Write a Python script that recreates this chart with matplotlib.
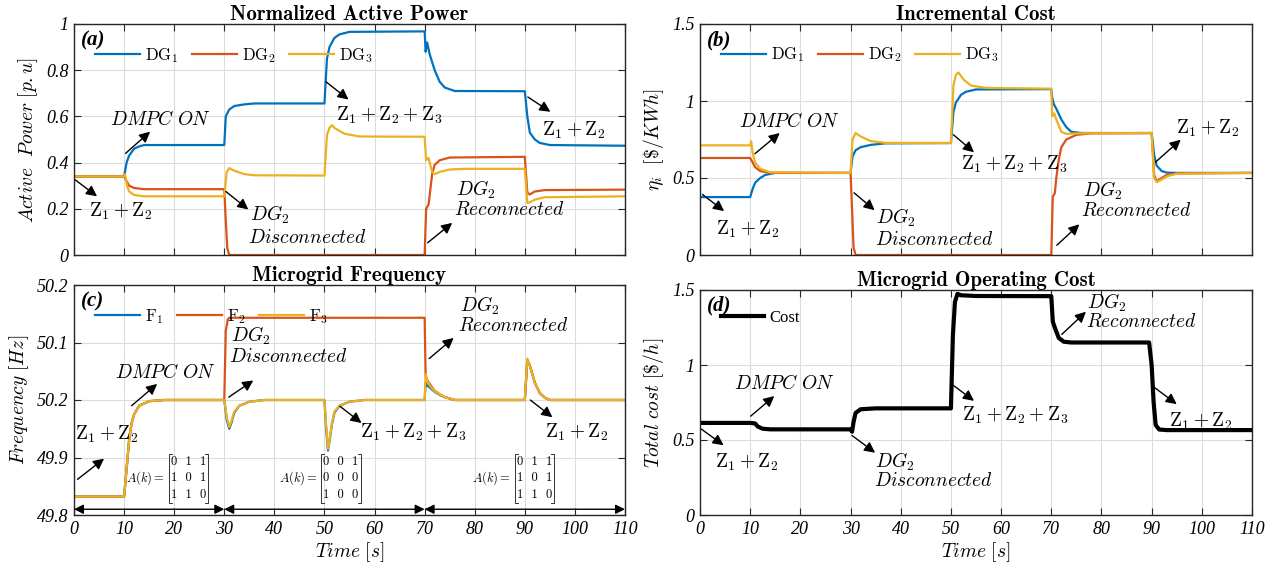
import numpy as np
import matplotlib
matplotlib.use("Agg")
import matplotlib.pyplot as plt

plt.rcParams['mathtext.fontset'] = 'cm'
plt.rcParams['font.family'] = ['Liberation Serif', 'DejaVu Serif']

# ---------------- data ----------------
# (a) normalized active power
t_p1 = [0, 10, 10.5, 11, 12, 13, 14, 30, 30.3, 31, 32, 34, 36, 50, 50.5, 51, 52, 53, 55, 70,
        70.2, 70.5, 71, 72, 73, 74, 76, 90, 90.5, 91, 92, 93, 95, 110]
p_dg1 = [0.34, 0.34, 0.40, 0.43, 0.46, 0.47, 0.476, 0.476, 0.60, 0.63, 0.645, 0.652, 0.656, 0.656,
         0.85, 0.90, 0.94, 0.955, 0.966, 0.968, 0.88, 0.92, 0.87, 0.80, 0.75, 0.725, 0.71, 0.709,
         0.60, 0.53, 0.50, 0.485, 0.476, 0.473]
t_p2 = [0, 10, 10.5, 11, 12, 14, 30, 30.3, 30.6, 31, 70, 70.3, 70.8, 71.5, 72, 73, 75, 90,
        90.5, 91, 92, 94, 110]
p_dg2 = [0.34, 0.34, 0.32, 0.30, 0.29, 0.285, 0.285, 0.15, 0.03, 0.0, 0.0, 0.20, 0.22, 0.35,
         0.39, 0.41, 0.422, 0.425, 0.27, 0.262, 0.275, 0.281, 0.283]
t_p3 = [0, 10, 10.2, 10.6, 11, 12, 14, 30, 30.5, 31, 32, 34, 36, 50, 50.5, 51, 51.5, 52, 54, 57, 70,
        70.3, 70.8, 71, 71.5, 72, 73, 75, 78, 90, 90.5, 91, 92, 94, 110]
p_dg3 = [0.34, 0.34, 0.35, 0.30, 0.275, 0.26, 0.254, 0.254, 0.36, 0.376, 0.365, 0.35, 0.345, 0.344,
         0.52, 0.55, 0.562, 0.55, 0.525, 0.513, 0.512, 0.41, 0.42, 0.40, 0.36, 0.35, 0.36, 0.37,
         0.373, 0.373, 0.225, 0.228, 0.24, 0.25, 0.254]

# (b) incremental cost
t_c1 = [0, 10, 10.5, 11, 12, 13, 15, 30, 30.4, 31, 32, 34, 37, 50, 50.5, 51, 52, 53, 55, 70,
        70.2, 70.5, 71, 72, 73, 74, 76, 90, 90.5, 91, 92, 93, 95, 110]
c_dg1 = [0.376, 0.376, 0.43, 0.47, 0.50, 0.52, 0.533, 0.533, 0.64, 0.68, 0.70, 0.715, 0.725, 0.727,
         0.93, 0.99, 1.04, 1.06, 1.075, 1.077, 1.02, 0.98, 0.95, 0.88, 0.83, 0.80, 0.792, 0.792,
         0.65, 0.58, 0.545, 0.535, 0.533, 0.533]
t_c2 = [0, 10, 10.5, 11, 12, 14, 30, 30.3, 30.6, 31, 70, 70.3, 70.7, 71, 71.5, 72, 73, 75, 78, 90,
        90.5, 91, 92, 93, 95, 110]
c_dg2 = [0.63, 0.63, 0.60, 0.57, 0.545, 0.533, 0.533, 0.30, 0.05, 0.0, 0.0, 0.38, 0.40, 0.50,
         0.62, 0.70, 0.75, 0.78, 0.79, 0.792, 0.52, 0.48, 0.50, 0.52, 0.53, 0.533]
t_c3 = [0, 10, 10.2, 10.5, 11, 12, 14, 30, 30.4, 31, 32, 34, 37, 50, 50.5, 51, 51.5, 52.5, 54, 57,
        70, 70.2, 70.6, 71, 71.5, 72, 73, 76, 90, 90.5, 91, 92, 93, 95, 110]
c_dg3 = [0.712, 0.712, 0.738, 0.66, 0.60, 0.56, 0.537, 0.533, 0.75, 0.792, 0.77, 0.74, 0.728, 0.727,
         1.10, 1.17, 1.185, 1.14, 1.10, 1.085, 1.08, 0.90, 0.92, 0.88, 0.84, 0.80, 0.787, 0.79,
         0.792, 0.50, 0.473, 0.49, 0.51, 0.528, 0.533]

# (c) microgrid frequency
t_f1 = [0, 10, 10.5, 11, 11.5, 12, 13, 15, 18, 30, 30.5, 31, 31.5, 32, 33, 35, 38, 50, 50.3, 50.7,
        51, 51.5, 52, 53, 55, 58, 70, 70.2, 70.5, 71, 72, 73, 74, 76, 90, 90.5, 91, 92, 93, 94,
        95, 110]
f_1 = [49.832, 49.832, 49.88, 49.93, 49.96, 49.975, 49.99, 49.998, 50.0, 50.0, 49.965, 49.95,
       49.962, 49.978, 49.99, 49.997, 50.0, 50.0, 49.955, 49.912, 49.928, 49.958, 49.978, 49.99,
       49.997, 50.0, 50.0, 50.03, 50.025, 50.022, 50.014, 50.009, 50.005, 50.0, 50.0, 50.07,
       50.06, 50.03, 50.012, 50.004, 50.0, 50.0]
t_f2 = [0, 10, 10.5, 11, 11.5, 12, 13, 15, 18, 30, 30.3, 30.7, 31, 70, 70.2, 70.5, 71, 72, 73, 74,
        76, 90, 90.5, 91, 92, 93, 94, 95, 110]
f_2 = [49.832, 49.832, 49.88, 49.93, 49.96, 49.975, 49.99, 49.998, 50.0, 50.0, 50.12, 50.14,
       50.143, 50.143, 50.04, 50.035, 50.028, 50.016, 50.01, 50.005, 50.0, 50.0, 50.07, 50.06,
       50.03, 50.012, 50.004, 50.0, 50.0]
t_f3 = [0, 10, 10.5, 11, 11.5, 12, 13, 15, 18, 30, 30.5, 31, 31.5, 32, 33, 35, 38, 50, 50.3, 50.7,
        51, 51.5, 52, 53, 55, 58, 70, 70.2, 70.5, 71, 72, 73, 74, 76, 90, 90.5, 91, 92, 93, 94,
        95, 110]
f_3 = [49.832, 49.832, 49.88, 49.93, 49.96, 49.975, 49.99, 49.998, 50.0, 50.0, 49.97, 49.953,
       49.965, 49.98, 49.99, 49.997, 50.0, 50.0, 49.96, 49.915, 49.93, 49.96, 49.98, 49.99,
       49.997, 50.0, 50.0, 50.045, 50.035, 50.025, 50.015, 50.01, 50.005, 50.0, 50.0, 50.072,
       50.06, 50.03, 50.012, 50.004, 50.0, 50.0]

# (d) operating cost
t_cost = [0, 10, 11, 11.5, 12.5, 14, 30, 30.3, 30.6, 31, 32, 35, 50, 50.4, 50.8, 51.3, 52, 55, 70,
          70.3, 70.8, 71.5, 72.5, 74, 89.5, 90, 90.4, 90.8, 91.5, 93, 110]
cost = [0.614, 0.614, 0.61, 0.59, 0.575, 0.571, 0.571, 0.555, 0.62, 0.68, 0.705, 0.711, 0.711,
        1.2, 1.42, 1.474, 1.465, 1.46, 1.459, 1.29, 1.24, 1.18, 1.155, 1.15, 1.15, 1.0, 0.75,
        0.6, 0.57, 0.566, 0.566]

xticks = list(range(0, 111, 10))
yt_a = [0, 0.2, 0.4, 0.6, 0.8, 1]
yl_a = ['0', '0.2', '0.4', '0.6', '0.8', '1']
yt_b = [0, 0.5, 1, 1.5]
yl_b = ['0', '0.5', '1', '1.5']
yt_c = [49.8, 49.9, 50.0, 50.1, 50.2]
yl_c = ['49.8', '49.9', '50.2', '50.1', '50.2']

blue, red, yellow = '#0072BD', '#D95319', '#EDB120'

# ---------------- figure ----------------
W, H = 1275, 564
fig = plt.figure(figsize=(W / 100, H / 100), dpi=100)


def box(l, r, t, b):
    return [l / W, 1 - b / H, (r - l) / W, (b - t) / H]


ax_a = fig.add_axes(box(74, 625, 24, 255))
ax_b = fig.add_axes(box(700, 1252, 24, 255))
ax_c = fig.add_axes(box(74, 625, 285, 515))
ax_d = fig.add_axes(box(700, 1252, 290, 515))

tick_font = dict(family='Liberation Serif', style='italic', size=13)


def style(ax, yt, yl, ylim, show_x):
    ax.set_xlim(0, 110)
    ax.set_ylim(*ylim)
    ax.set_xticks(xticks)
    ax.set_yticks(yt)
    ax.set_yticklabels(yl, fontdict=tick_font)
    if show_x:
        ax.set_xticklabels([str(v) for v in xticks], fontdict=tick_font)
        ax.set_xlabel(r'$Time\ [s]$', fontsize=14, labelpad=2)
    else:
        ax.set_xticklabels([])
    ax.grid(True, color='#dcdcdc', lw=0.8)
    ax.set_axisbelow(True)
    ax.tick_params(direction='in', length=5, width=0.8, top=True, right=True, color='#262626', pad=4)
    for s in ax.spines.values():
        s.set_color('#262626')
        s.set_linewidth(1.0)


def label(ax, s):
    ax.text(0.012, 0.93, s, transform=ax.transAxes, fontsize=15, fontweight='bold',
            fontstyle='italic', ha='left', va='center', family='Liberation Serif')


def notes(ax, texts, arrows, fs=14):
    for x, y, s in texts:
        ax.text(x, y, s, fontsize=fs, ha='left', va='center')
    for (x0, y0), (x1, y1) in arrows:
        ax.annotate('', xy=(x1, y1), xytext=(x0, y0),
                    arrowprops=dict(arrowstyle='-|>', color='k', lw=1.0, mutation_scale=16,
                                    shrinkA=0, shrinkB=0))


Z12 = r'$\mathrm{Z}_1+\mathrm{Z}_2$'
Z123 = r'$\mathrm{Z}_1+\mathrm{Z}_2+\mathrm{Z}_3$'
DG2 = r'$DG_2$'
DMPC = r'$DMPC\ ON$'
title_font = dict(fontsize=15, family='cmb10')

# (a)
ax_a.plot(t_p1, p_dg1, color=blue, lw=1.6, label=r'$\mathrm{DG}_1$')
ax_a.plot(t_p2, p_dg2, color=red, lw=1.6, label=r'$\mathrm{DG}_2$')
ax_a.plot(t_p3, p_dg3, color=yellow, lw=1.6, label=r'$\mathrm{DG}_3$')
style(ax_a, yt_a, yl_a, (0, 1), False)
ax_a.set_title('Normalized Active Power', pad=3, **title_font)
ax_a.set_ylabel(r'$Active\ \ Power\ [p.u]$', fontsize=14)
label(ax_a, '(a)')
notes(ax_a,
      [(7.1, 0.585, DMPC), (3.0, 0.19, Z12), (35.2, 0.172, DG2), (34.8, 0.075, r'$Disconnected$'),
       (52.3, 0.605, Z123), (76.3, 0.282, DG2), (75.9, 0.195, r'$Reconnected$'), (93.5, 0.54, Z12)],
      [((10.3, 0.44), (15.2, 0.534)), ((0.2, 0.326), (4.6, 0.254)), ((30.3, 0.275), (34.8, 0.197)),
       ((50.3, 0.75), (54.8, 0.673)), ((70.6, 0.053), (75.5, 0.139)), ((90.6, 0.684), (95.1, 0.62))])

# (b)
ax_b.plot(t_c1, c_dg1, color=blue, lw=1.6, label=r'$\mathrm{DG}_1$')
ax_b.plot(t_c2, c_dg2, color=red, lw=1.6, label=r'$\mathrm{DG}_2$')
ax_b.plot(t_c3, c_dg3, color=yellow, lw=1.6, label=r'$\mathrm{DG}_3$')
style(ax_b, yt_b, yl_b, (0, 1.5), False)
ax_b.set_title('Incremental Cost', pad=3, **title_font)
ax_b.set_ylabel(r'$\eta_i\ \ [\$/KWh]$', fontsize=14)
label(ax_b, '(b)')
notes(ax_b,
      [(7.7, 0.87, DMPC), (3.1, 0.166, Z12), (35.1, 0.242, DG2), (34.8, 0.10, r'$Disconnected$'),
       (52.1, 0.587, Z123), (76.4, 0.415, DG2), (76.0, 0.285, r'$Reconnected$'), (94.9, 0.824, Z12)],
      [((10.95, 0.658), (15.9, 0.792)), ((0.5, 0.393), (4.8, 0.285)), ((30.7, 0.404), (34.8, 0.291)),
       ((50.5, 0.781), (54.6, 0.667)), ((71.1, 0.063), (75.6, 0.199)), ((90.8, 0.604), (95.8, 0.749))])

# (c)
ax_c.plot(t_f1, f_1, color=blue, lw=1.6, label=r'$\mathrm{F}_1$')
ax_c.plot(t_f2, f_2, color=red, lw=1.6, label=r'$\mathrm{F}_2$')
ax_c.plot(t_f3, f_3, color=yellow, lw=1.6, label=r'$\mathrm{F}_3$')
style(ax_c, yt_c, yl_c, (49.8, 50.2), True)
ax_c.set_title('Microgrid Frequency', pad=3, **title_font)
ax_c.set_ylabel(r'$Frequency\ [Hz]$', fontsize=14)
label(ax_c, '(c)')
notes(ax_c,
      [(8.2, 50.047, DMPC), (0.2, 49.94, Z12), (31.3, 50.111, DG2), (30.9, 50.074, r'$Disconnected$'),
       (57.0, 49.943, Z123), (77.0, 50.164, DG2), (76.6, 50.128, r'$Reconnected$'), (94.1, 49.943, Z12)],
      [((11.5, 49.99), (16.6, 50.028)), ((0.7, 49.862), (6.0, 49.898)), ((30.9, 50.005), (35.8, 50.034)),
       ((53.1, 49.989), (57.4, 49.96)), ((70.9, 50.072), (75.8, 50.108)), ((91.1, 50.0), (95.5, 49.97))])

# topology intervals and adjacency matrices
intervals = [(0, 30), (30, 70), (70, 110)]
mat_x = [22.8, 53.3, 92.0]
mats = [['0  1  1', '1  0  1', '1  1  0'],
        ['0  0  1', '0  0  0', '1  0  0'],
        ['0  1  1', '1  0  1', '1  1  0']]
for a, b in intervals:
    ax_c.annotate('', xy=(b, 49.81), xytext=(a, 49.81),
                  arrowprops=dict(arrowstyle='<|-|>', color='k', lw=1.0, mutation_scale=14,
                                  shrinkA=0, shrinkB=0))
mtexts = []
for mx, rows in zip(mat_x, mats):
    mt = ax_c.text(mx, 49.864, '\n'.join(rows), fontsize=9, family='cmr10', ha='center',
                   va='center', linespacing=1.5)
    mtexts.append(mt)
fig.canvas.draw()
inv = ax_c.transData.inverted()
for mt in mtexts:
    bb = mt.get_window_extent().transformed(inv)
    x0, x1 = bb.x0 - 0.4, bb.x1 + 0.4
    y0, y1 = bb.y0 - 0.003, bb.y1 + 0.003
    ax_c.plot([x0 + 0.6, x0, x0, x0 + 0.6], [y1, y1, y0, y0], color='#333333', lw=0.7)
    ax_c.plot([x1 - 0.6, x1, x1, x1 - 0.6], [y1, y1, y0, y0], color='#333333', lw=0.7)
    ax_c.text(x0 - 0.8, (y0 + y1) / 2, r'$A(k)=$', fontsize=9, ha='right', va='center')

# (d)
ax_d.plot(t_cost, cost, color='k', lw=3.0, label='Cost')
style(ax_d, yt_b, yl_b, (0, 1.5), True)
ax_d.set_title('Microgrid Operating Cost', pad=3, **title_font)
ax_d.set_ylabel(r'$Total\ cost\ [\$/h]$', fontsize=14)
label(ax_d, '(d)')
notes(ax_d,
      [(6.8, 0.875, DMPC), (2.9, 0.35, Z12), (34.9, 0.352, DG2), (34.6, 0.227, r'$Disconnected$'),
       (52.3, 0.664, Z123), (77.2, 1.415, DG2), (77.0, 1.286, r'$Reconnected$'), (93.5, 0.625, Z12)],
      [((10.1, 0.659), (14.8, 0.793)), ((0.25, 0.573), (4.7, 0.465)), ((30.3, 0.53), (34.9, 0.415)),
       ((50.3, 0.869), (54.6, 0.761)), ((72.1, 1.204), (76.9, 1.355)), ((90.4, 0.854), (95.0, 0.739))])

for ax, yy in [(ax_a, 0.864), (ax_b, 0.866), (ax_c, 0.863)]:
    ax.legend(loc='center left', bbox_to_anchor=(0.038, yy), ncol=3, frameon=False, fontsize=12,
              handlelength=2.7, handletextpad=0.3, columnspacing=0.8, borderpad=0, borderaxespad=0)
ax_d.legend(loc='center left', bbox_to_anchor=(0.038, 0.875), frameon=False,
            prop=dict(family='Liberation Serif', size=12),
            handlelength=2.6, handletextpad=0.3, borderpad=0, borderaxespad=0)

fig.savefig('out.png', dpi=100)
